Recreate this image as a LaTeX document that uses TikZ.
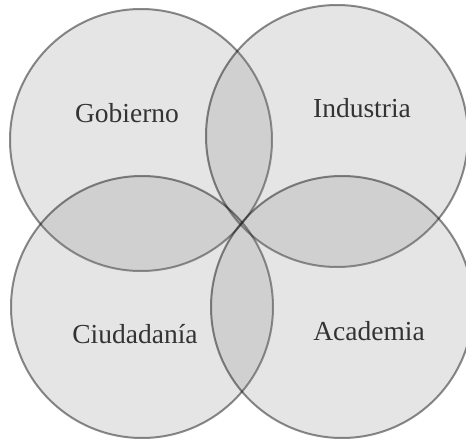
\documentclass[tikz,border=0pt]{standalone}
\usepackage{fontspec}
\setmainfont{Liberation Serif}
\begin{document}
\begin{tikzpicture}[x=1pt,y=-1pt,
  venn/.style={circle, minimum size=262pt, inner sep=0pt, fill=gray, fill opacity=0.2, draw=black, draw opacity=0.45, line width=2pt},
  lbl/.style={anchor=base, text=black!80, font=\fontsize{27.5}{33}\selectfont, inner sep=0pt}]
\useasboundingbox (0,0) rectangle (466,441);
\fill[white] (0,0) rectangle (466,441);
\node[venn] (gob) at (141,140) {};
\node[venn] (ind) at (337,136) {};
\node[venn] (ciu) at (142,307) {};
\node[venn] (aca) at (342,307) {};
\node[lbl] (tgob) at (127,123) {Gobierno};
\node[lbl] (tind) at (362,118) {Industria};
\node[lbl] (tciu) at (135,343) {Ciudadanía};
\node[lbl] (taca) at (369,340) {Academia};
\end{tikzpicture}
\end{document}
